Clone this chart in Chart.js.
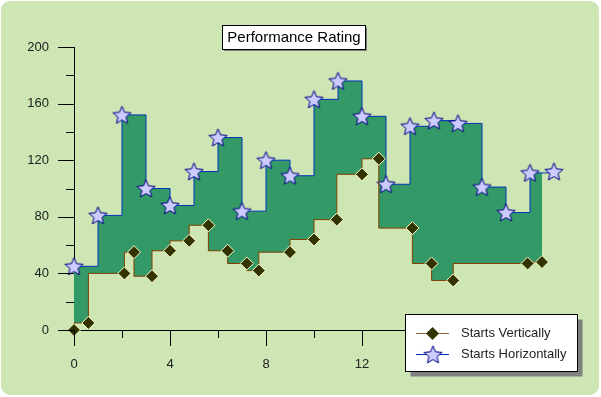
<!DOCTYPE html>
<html>
<head>
<meta charset="utf-8">
<script src="https://cdn.jsdelivr.net/npm/chart.js@4/dist/chart.umd.min.js"></script>
<style>
  html, body { margin: 0; padding: 0; background: #ffffff; }
  #wrap { width: 601px; height: 397px; position: relative; }
</style>
</head>
<body>
<div id="wrap"><canvas id="c" width="601" height="397"></canvas></div>
<script>
// ---- data ----
const titleText = 'Performance Rating';
const seriesNames = ['Starts Vertically', 'Starts Horizontally'];
const verticalX = [0, 0.6, 2.1, 2.5, 3.25, 4, 4.8, 5.6, 6.4, 7.2, 7.7, 9, 10, 10.95, 12, 12.7, 14.1, 14.9, 15.8, 18.9, 19.5];
const verticalY = [0, 5, 40, 55, 38, 56, 63, 74, 56, 47, 42, 55, 64, 78, 110, 121, 72, 47, 35, 47, 48];
const horizontalX = [0, 1, 2, 3, 4, 5, 6, 7, 8, 9, 10, 11, 12, 13, 14, 15, 16, 17, 18, 19, 20];
const horizontalY = [45, 81, 152, 100, 88, 112, 136, 84, 120, 109, 163, 176, 151, 103, 144, 148, 146, 101, 83, 111, 112];
const xTickLabels = [0, 4, 8, 12, 16, 20];
const yTickLabels = [0, 40, 80, 120, 160, 200];

// ---- styles ----
const BG = 'rgb(205,230,180)';
const FILL = 'rgb(51,153,102)';
const BROWN = 'rgb(128,64,0)';
const BLUE = 'rgb(0,51,187)';
const FONT = '"Liberation Sans", Arial, sans-serif';

function makeStar(size) {
  const c = document.createElement('canvas');
  c.width = size; c.height = size;
  const g = c.getContext('2d');
  const cx = size / 2, cy = size / 2 + 0.8;
  const R = size / 2 - 1, r = R * 0.45;
  g.beginPath();
  for (let i = 0; i < 10; i++) {
    const a = -Math.PI / 2 + i * Math.PI / 5;
    const rr = i % 2 ? r : R;
    const px = cx + rr * Math.cos(a), py = cy + rr * Math.sin(a);
    if (i === 0) g.moveTo(px, py); else g.lineTo(px, py);
  }
  g.closePath();
  g.fillStyle = '#ccccff';
  g.fill();
  g.lineWidth = 1;
  g.strokeStyle = '#000080';
  g.stroke();
  return c;
}
const starImg = makeStar(21);

function toPts(xs, ys) { return xs.map((x, i) => ({ x: x, y: ys[i] })); }

const bgPlugin = {
  id: 'bg',
  beforeDraw(chart) {
    const ctx = chart.ctx;
    ctx.save();
    ctx.fillStyle = '#ffffff';
    ctx.fillRect(0, 0, chart.width, chart.height);
    ctx.beginPath();
    ctx.roundRect(1, 1, 598, 394, 9);
    ctx.fillStyle = BG;
    ctx.fill();
    ctx.restore();
  },
  afterDraw(chart) {
    const ctx = chart.ctx;
    const xs = chart.scales.x, ys = chart.scales.y;
    ctx.save();
    // tick marks
    ctx.strokeStyle = '#000';
    ctx.lineWidth = 1;
    for (let v = 0; v <= 200; v += 20) {
      const py = Math.round(ys.getPixelForValue(v)) + 0.5;
      const len = (v % 40 === 0) ? 16 : 8;
      const px = xs.left;
      ctx.beginPath(); ctx.moveTo(px - len, py); ctx.lineTo(px, py); ctx.stroke();
    }
    for (let v = 0; v <= 20; v += 2) {
      const px = Math.round(xs.getPixelForValue(v)) + 0.5;
      const len = (v % 4 === 0) ? 16 : 8;
      const py = ys.bottom;
      ctx.beginPath(); ctx.moveTo(px, py); ctx.lineTo(px, py + len); ctx.stroke();
    }
    // title box
    ctx.font = '15px ' + FONT;
    const tw = ctx.measureText(titleText).width;
    const tcx = 294, tcy = 37;
    const bx = Math.round(tcx - tw / 2 - 5) + 0.5, by = 25.5, bw = Math.round(tw + 10), bh = 24;
    ctx.fillStyle = '#808080';
    ctx.fillRect(bx + 1.5, by + 1.5, bw, bh);
    ctx.fillStyle = '#fff';
    ctx.fillRect(bx, by, bw, bh);
    ctx.strokeStyle = '#000';
    ctx.strokeRect(bx, by, bw, bh);
    ctx.fillStyle = '#000';
    ctx.textAlign = 'center';
    ctx.textBaseline = 'middle';
    ctx.fillText(titleText, tcx, tcy + 1);
    // legend
    const lx = 405.5, ly = 314.5, lw = 172, lh = 57;
    ctx.fillStyle = '#808080';
    ctx.fillRect(lx + 5, ly + 5, lw, lh);
    ctx.fillStyle = '#fff';
    ctx.fillRect(lx, ly, lw, lh);
    ctx.strokeStyle = '#000';
    ctx.strokeRect(lx, ly, lw, lh);
    const rows = [333.5, 354.5];
    // row 1: diamond
    ctx.strokeStyle = 'rgb(150,100,60)';
    ctx.beginPath(); ctx.moveTo(416, rows[0]); ctx.lineTo(449, rows[0]); ctx.stroke();
    ctx.beginPath();
    ctx.moveTo(432.5 - 6.5, rows[0]); ctx.lineTo(432.5, rows[0] - 6.5);
    ctx.lineTo(432.5 + 6.5, rows[0]); ctx.lineTo(432.5, rows[0] + 6.5); ctx.closePath();
    ctx.fillStyle = '#333300'; ctx.fill();
    // row 2: star
    ctx.strokeStyle = BLUE;
    ctx.beginPath(); ctx.moveTo(416, rows[1]); ctx.lineTo(449, rows[1]); ctx.stroke();
    ctx.drawImage(starImg, 433 - 10.5, rows[1] - 10.5);
    ctx.fillStyle = '#222';
    ctx.font = '13px ' + FONT;
    ctx.textAlign = 'left';
    ctx.textBaseline = 'middle';
    ctx.fillText(seriesNames[0], 461, rows[0]);
    ctx.fillText(seriesNames[1], 461, rows[1]);
    ctx.restore();
  }
};

new Chart(document.getElementById('c'), {
  type: 'line',
  data: {
    datasets: [
      {
        label: seriesNames[0],
        data: toPts(verticalX, verticalY),
        stepped: 'after',
        borderColor: BROWN,
        borderWidth: 1,
        pointStyle: 'rectRot',
        pointRadius: 6.5,
        pointBackgroundColor: '#333300',
        pointBorderColor: '#ffffcc',
        pointBorderWidth: 1,
        fill: false,
        clip: false,
        order: 1
      },
      {
        label: seriesNames[1],
        data: toPts(horizontalX, horizontalY),
        stepped: 'before',
        borderColor: BLUE,
        borderWidth: 1,
        pointStyle: starImg,
        pointRadius: 10,
        backgroundColor: FILL,
        fill: '-1',
        clip: false,
        order: 2
      }
    ]
  },
  options: {
    responsive: false,
    animation: false,
    layout: { padding: { left: 0, right: 47, top: 47, bottom: 0 } },
    plugins: {
      legend: { display: false },
      title: { display: false },
      tooltip: { enabled: false },
      filler: { propagate: false }
    },
    scales: {
      x: {
        type: 'linear',
        min: 0, max: 20,
        afterFit(s) { s.height = 67; },
        afterBuildTicks(s) { s.ticks = xTickLabels.map(v => ({ value: v })); },
        grid: { display: false, drawTicks: false },
        border: { display: true, color: '#000', width: 1 },
        ticks: { padding: 27, color: '#222', font: { family: FONT, size: 13 } }
      },
      y: {
        type: 'linear',
        min: 0, max: 200,
        afterFit(s) { s.width = 74; },
        afterBuildTicks(s) { s.ticks = yTickLabels.map(v => ({ value: v })); },
        grid: { display: false, drawTicks: false },
        border: { display: true, color: '#000', width: 1 },
        ticks: { padding: 25, color: '#222', font: { family: FONT, size: 13 } }
      }
    }
  },
  plugins: [bgPlugin]
});
</script>
</body>
</html>
